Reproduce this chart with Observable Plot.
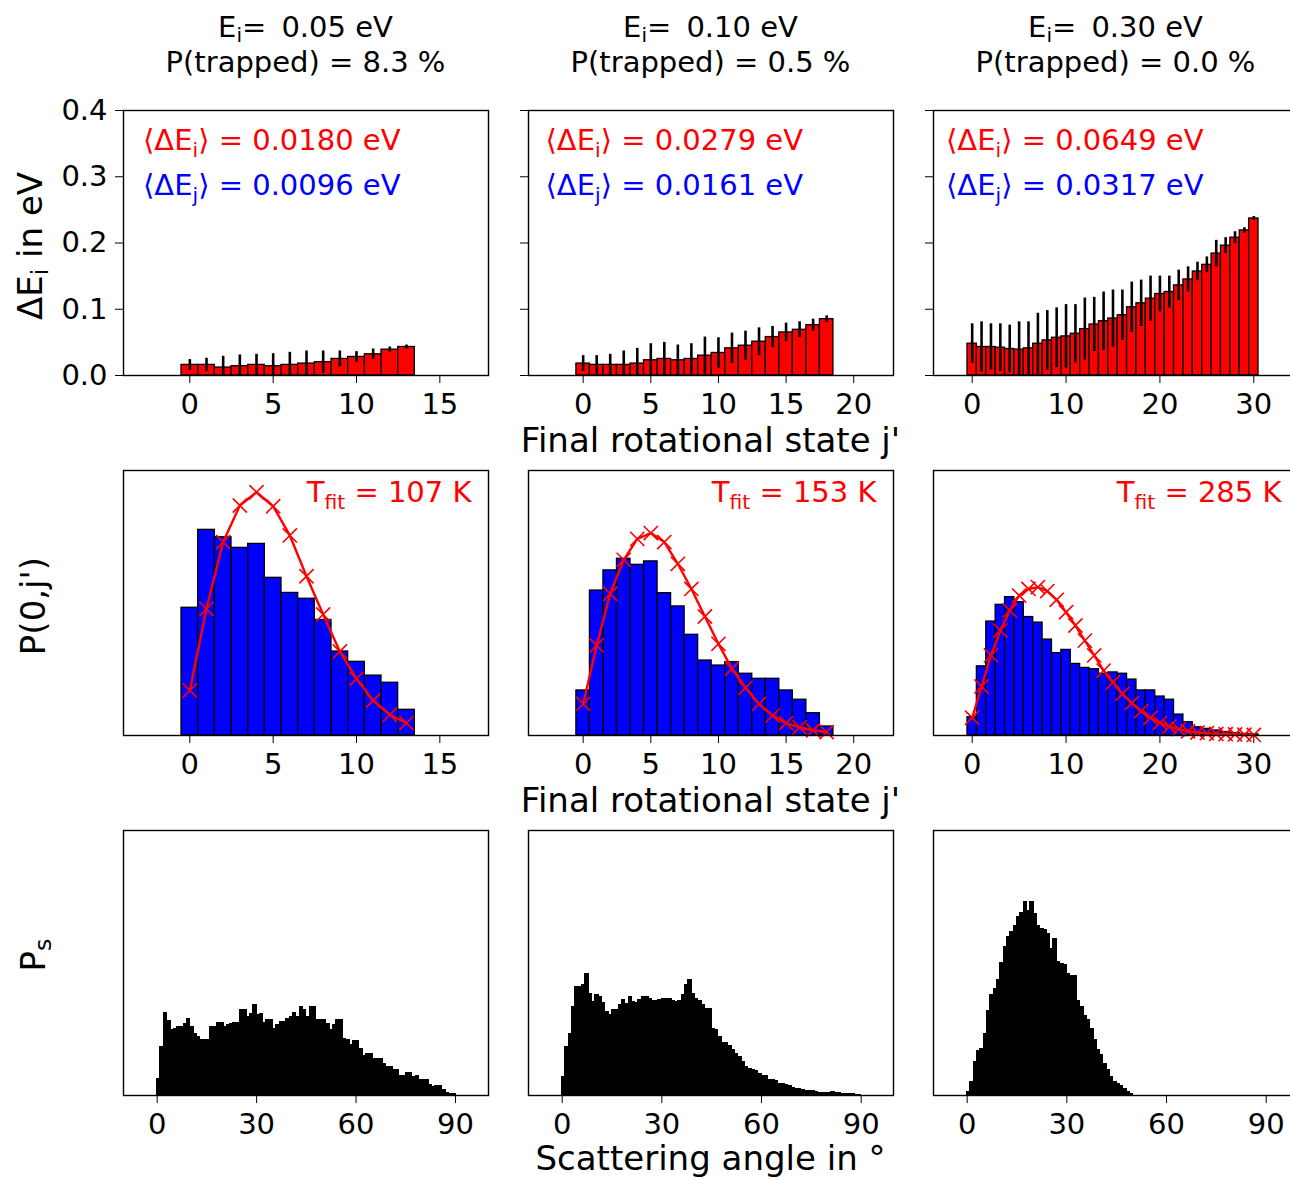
<!DOCTYPE html>
<html><head><meta charset="utf-8">
<script src="https://cdn.jsdelivr.net/npm/d3@7"></script>
<script src="https://cdn.jsdelivr.net/npm/@observablehq/plot@0.6"></script>
<style>
html,body{margin:0;padding:0;width:1290px;height:1180px;overflow:hidden;background:#fff;font-family:"DejaVu Sans",sans-serif;}
#fig{position:relative;width:1290px;height:1180px;overflow:hidden;}
.lbl{position:absolute;white-space:pre;color:#000;}
.lbl sub{font-size:70%;vertical-align:-0.25em;line-height:0;}
</style></head><body><div id="fig"></div>
<script>
// ---------- text / categories ----------
const energies = ["0.05", "0.10", "0.30"];
const trapped = ["8.3", "0.5", "0.0"];
const meanDEi = ["0.0180", "0.0279", "0.0649"];
const meanDEj = ["0.0096", "0.0161", "0.0317"];
const Tfit = ["107", "153", "285"];
const jTicks = [[0, 5, 10, 15], [0, 5, 10, 15, 20], [0, 10, 20, 30]];
const eTicks = [0, 0.1, 0.2, 0.3, 0.4];
const angleTicks = [0, 30, 60, 90];

// ---------- top row: mean energy loss per final j' (eV) with error bars ----------
const dE1 = [.016,.016,.012,.014,.016,.014,.016,.018,.020,.025,.028,.032,.039,.043];
const dE1err = [.008,.010,.017,.017,.016,.019,.019,.019,.017,.012,.008,.008,.004,.003];
const dE2 = [.018,.016,.016,.016,.018,.023,.025,.023,.025,.030,.034,.041,.045,.051,.058,.065,.069,.076,.085];
const dE2err = [.012,.014,.016,.021,.023,.025,.025,.023,.023,.028,.023,.023,.022,.021,.016,.014,.012,.009,.005];
const dE3 = [.048,.043,.043,.042,.040,.039,.041,.048,.053,.057,.059,.063,.070,.077,.082,.086,.091,.103,.109,.116,.123,.126,.136,.145,.157,.167,.184,.196,.208,.219,.237];
const dE3err = [.030,.038,.035,.036,.036,.042,.040,.046,.045,.045,.048,.044,.047,.041,.044,.043,.038,.038,.035,.034,.027,.024,.023,.019,.014,.012,.020,.012,.009,.004,.003];

// ---------- middle row: P(0,j') histogram (relative) and Boltzmann fit ----------
const pj1 = [.482,.776,.748,.708,.723,.595,.538,.516,.436,.317,.278,.226,.199,.097];
const fit1 = [.170,.478,.730,.868,.918,.865,.755,.601,.457,.317,.214,.132,.078,.047];
const pj2 = [.170,.547,.623,.667,.644,.657,.537,.487,.380,.283,.264,.277,.233,.214,.214,.170,.135,.084,.034];
const fit2 = [.119,.340,.535,.663,.742,.764,.730,.648,.553,.449,.346,.252,.180,.119,.075,.047,.031,.019,.013];
const pj3 = [.069,.261,.430,.493,.522,.503,.447,.426,.362,.311,.323,.270,.255,.250,.233,.238,.233,.211,.170,.170,.147,.135,.079,.050,.031,.025,.019,.013,.009,.006,.004];
const fit3 = [.067,.185,.302,.396,.472,.528,.553,.560,.545,.512,.465,.415,.358,.302,.245,.201,.157,.122,.092,.067,.048,.034,.024,.016,.011,.009,.006,.005,.004,.003,.002];

// ---------- bottom row: scattering angle distribution, 1 degree bins (relative) ----------
const ps1 = [.063,.182,.311,.28,.248,.25,.26,.26,.268,.288,
  .258,.233,.22,.208,.208,.208,.26,.26,.275,.275,
  .26,.264,.27,.273,.273,.321,.321,.296,.308,.34,
  .302,.308,.275,.283,.283,.252,.264,.277,.277,.289,
  .296,.311,.296,.333,.321,.296,.333,.333,.286,.286,
  .286,.27,.245,.267,.283,.283,.214,.208,.192,.205,
  .205,.176,.147,.155,.155,.138,.138,.138,.119,.109,
  .109,.097,.097,.072,.075,.084,.084,.069,.072,.057,
  .059,.059,.038,.031,.034,.034,.019,.009,.006,.006];
const ps2 = [.069,.182,.233,.333,.409,.409,.415,.459,.384,.352,
  .377,.371,.348,.314,.302,.323,.323,.340,.361,.346,
  .371,.352,.348,.361,.371,.371,.362,.356,.358,.361,
  .365,.365,.365,.358,.352,.358,.377,.415,.434,.384,
  .365,.358,.343,.327,.327,.252,.245,.220,.197,.197,
  .185,.170,.157,.145,.126,.107,.099,.097,.092,.082,
  .075,.072,.059,.057,.054,.044,.044,.040,.034,.028,
  .025,.025,.019,.016,.016,.016,.014,.010,.009,.009,
  .009,.011,.009,.008,.006,.006,.006,.005,.003,.001];
const ps3 = [.013,.050,.126,.167,.176,.233,.318,.377,.403,.436,
  .499,.560,.597,.616,.638,.673,.688,.730,.696,.730,
  .686,.638,.629,.623,.610,.553,.591,.503,.497,.491,
  .457,.449,.449,.358,.333,.298,.283,.252,.208,.170,
  .151,.119,.094,.069,.050,.042,.035,.025,.013,.006,
  0,0,0,0,0,0,0,0,0,0,
  0,0,0,0,0,0,0,0,0,0,
  0,0,0,0,0,0,0,0,0,0,
  0,0,0,0,0,0,0,0,0,0];

const dEvals = [dE1, dE2, dE3], dEerrs = [dE1err, dE2err, dE3err];
const pjVals = [pj1, pj2, pj3], fitVals = [fit1, fit2, fit3];
const psVals = [ps1, ps2, ps3];

// ---------- layout ----------
const ML = 75, MR = 10, MT = 10, MB = 55;
const frameLeft = [123, 528, 933], rowTop = [110, 470, 830], FW = 365, FH = 265;
const jDomain = [[-3.98, 17.92], [-4.04, 22.94], [-4.12, 34.76]];
const angleDomain = [[-10.17, 99.97], [-10.14, 99.73], [-10.14, 99.73]];
const annoDx = [19.5, 17, 12.5];
const FS = 29;
const fig = document.getElementById("fig");

function subify(root, fs) {
  root.querySelectorAll("text").forEach(t => {
    if (t.querySelector("tspan")) return;
    const s = t.textContent;
    if (!s.includes("_")) return;
    t.textContent = "";
    const parts = s.split(/_(\w+)/);
    let prevSub = false;
    parts.forEach((p, i) => {
      const isSub = i % 2 === 1;
      if (!p) return;
      const ts = document.createElementNS("http://www.w3.org/2000/svg", "tspan");
      ts.textContent = p;
      if (isSub) { ts.setAttribute("font-size", fs * 0.7); ts.setAttribute("dy", fs * 0.24); }
      else if (prevSub) ts.setAttribute("dy", -fs * 0.24);
      prevSub = isSub;
      t.appendChild(ts);
    });
  });
}

function panel(c, r, x, y, marks) {
  const svg = Plot.plot({
    width: FW + ML + MR, height: FH + MT + MB,
    marginLeft: ML, marginRight: MR, marginTop: MT, marginBottom: MB,
    style: {background: "transparent", maxWidth: "none", overflow: "visible",
            fontFamily: "'DejaVu Sans', sans-serif", fontSize: FS + "px", color: "black"},
    x, y, marks
  });
  svg.style.position = "absolute";
  svg.style.left = (frameLeft[c] - ML) + "px";
  svg.style.top = (rowTop[r] - MT) + "px";
  subify(svg, FS);
  fig.appendChild(svg);
}

function jAxis(c) {
  return {domain: jDomain[c], ticks: jTicks[c], tickSize: 8, tickPadding: 10, label: null, tickFormat: d3.format("d")};
}

for (let c = 0; c < 3; c++) {
  // top row
  const rows = dEvals[c].map((v, j) => ({j, v, e: dEerrs[c][j]}));
  panel(c, 0, jAxis(c),
    {domain: [0, 0.4], ticks: eTicks, tickSize: 8, tickPadding: 8, label: null,
     tickFormat: c === 0 ? d3.format(".1f") : () => ""},
    [
      Plot.rect(rows, {x1: d => d.j - 0.5, x2: d => d.j + 0.5, y1: 0, y2: "v", fill: "#ff0000", stroke: "black", strokeWidth: 1.3}),
      Plot.ruleX(rows, {x: "j", y1: d => Math.max(0, d.v - d.e), y2: d => d.v + d.e, stroke: "black", strokeWidth: 2.6}),
      Plot.frame({stroke: "black", strokeWidth: 1.4}),
      Plot.text([`⟨ΔE_i⟩ = ${meanDEi[c]} eV`], {frameAnchor: "top-left", dx: annoDx[c], dy: 19.4, textAnchor: "start", lineAnchor: "top", fill: "#ff0000", fontSize: FS}),
      Plot.text([`⟨ΔE_j⟩ = ${meanDEj[c]} eV`], {frameAnchor: "top-left", dx: annoDx[c], dy: 64.4, textAnchor: "start", lineAnchor: "top", fill: "#0000ff", fontSize: FS})
    ]);

  // middle row
  const bars = pjVals[c].map((p, j) => ({j, p}));
  const fit = fitVals[c].map((f, j) => ({j, f}));
  panel(c, 1, jAxis(c), {domain: [0, 1], axis: null},
    [
      Plot.rect(bars, {x1: d => d.j - 0.5, x2: d => d.j + 0.5, y1: 0, y2: "p", fill: "#0000ff", stroke: "black", strokeWidth: 1.3}),
      Plot.line(fit, {x: "j", y: "f", stroke: "#ff0000", strokeWidth: 2.4}),
      Plot.dot(fit, {x: "j", y: "f", symbol: "times", r: 6.5, stroke: "#ff0000", strokeWidth: 1.6}),
      Plot.frame({stroke: "black", strokeWidth: 1.4}),
      Plot.text([`T_fit = ${Tfit[c]} K`], {frameAnchor: "top-right", dx: -17, dy: 11.4, textAnchor: "end", lineAnchor: "top", fill: "#ff0000", fontSize: FS})
    ]);

  // bottom row
  const hist = psVals[c].map((v, k) => ({a: k, v}));
  panel(c, 2,
    {domain: angleDomain[c], ticks: angleTicks, tickSize: 8, tickPadding: 10, label: null, tickFormat: d3.format("d")},
    {domain: [0, 1], axis: null},
    [
      Plot.rect(hist, {x1: "a", x2: d => d.a + 1, y1: 0, y2: "v", fill: "black", stroke: "black", strokeWidth: 1.2, shapeRendering: "crispEdges"}),
      Plot.frame({stroke: "black", strokeWidth: 1.4})
    ]);
}

// ---------- HTML titles and axis labels ----------
function addLabel(html, css) {
  const d = document.createElement("div");
  d.className = "lbl";
  d.innerHTML = html;
  Object.assign(d.style, css);
  fig.appendChild(d);
}
for (let c = 0; c < 3; c++) {
  addLabel(`E<sub>i</sub>= &thinsp;${energies[c]} eV<br>P(trapped) = ${trapped[c]} %`, {
    left: (frameLeft[c] + FW / 2) + "px", top: "9.5px", transform: "translateX(-50%)",
    fontSize: "29px", lineHeight: "35px", textAlign: "center"});
}
const xLabels = ["Final rotational state j'", "Final rotational state j'", "Scattering angle in °"];
const xLabelTop = [423, 783, 1141];
xLabels.forEach((t, i) => addLabel(t, {left: (frameLeft[1] + FW / 2) + "px", top: xLabelTop[i] + "px",
  transform: "translateX(-50%)", fontSize: "34px", lineHeight: "34px"}));
const yLabels = ["ΔE<sub>i</sub> in eV", "P(0,j')", "P<sub>s</sub>"];
const yLabelPos = [[30, 246], [33, 606], [33, 955]];
yLabels.forEach((t, i) => addLabel(t, {left: yLabelPos[i][0] + "px", top: yLabelPos[i][1] + "px",
  transform: "translate(-50%,-50%) rotate(-90deg)", fontSize: "34px", lineHeight: "34px"}));
</script>
</body></html>
